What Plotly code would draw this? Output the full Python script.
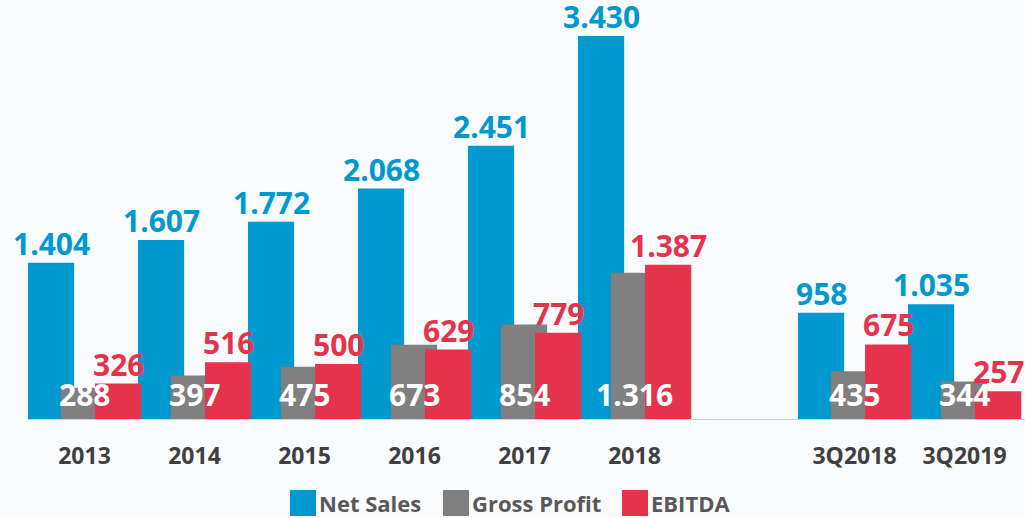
import plotly.graph_objects as go

# ---------------------------------------------------------------------------
# Data
# ---------------------------------------------------------------------------

PERIODS = ["2013", "2014", "2015", "2016", "2017", "2018", "3Q2018", "3Q2019"]
POSITIONS = [0, 1, 2, 3, 4, 5, 7, 8]  # gap between yearly and quarterly groups

NET_SALES = [1404, 1607, 1772, 2068, 2451, 3430, 958, 1035]
GROSS_PROFIT = [288, 397, 475, 673, 854, 1316, 435, 344]
EBITDA = [326, 516, 500, 629, 779, 1387, 675, 257]

SERIES = ["Net Sales", "Gross Profit", "EBITDA"]

BLUE = "#0099CF"
GRAY = "#808080"
RED = "#E5334B"
TEXT = "#595959"
FONT = "Open Sans, sans-serif"

W, H = 1025, 518
PLOT_H = 420  # plot area height in px (baseline position)

BAR_W = 0.42
OFFSETS = {"Net Sales": -0.514, "Gross Profit": -0.214, "EBITDA": 0.096}


def fmt(v):
    return f"{v:,}".replace(",", ".")


fig = go.Figure()
for name, values, color in zip(SERIES, [NET_SALES, GROSS_PROFIT, EBITDA], [BLUE, GRAY, RED]):
    fig.add_trace(go.Bar(
        x=POSITIONS, y=values, name=name,
        marker=dict(color=color, line=dict(width=0)),
        width=BAR_W, offset=OFFSETS[name],
        showlegend=False,
    ))

# value labels
label_font = dict(family=FONT, size=30, weight="bold")
for x, ns, gp, eb in zip(POSITIONS, NET_SALES, GROSS_PROFIT, EBITDA):
    fig.add_annotation(
        x=x + OFFSETS["Net Sales"] + BAR_W / 2, y=ns, text=fmt(ns),
        showarrow=False, yanchor="bottom", yshift=-3,
        font=dict(label_font, color=BLUE),
    )
    fig.add_annotation(
        x=x + OFFSETS["EBITDA"] + BAR_W / 2, y=eb, text=fmt(eb),
        showarrow=False, yanchor="bottom", yshift=-3,
        font=dict(label_font, color=RED),
    )
    fig.add_annotation(
        x=x, y=0, text=fmt(gp),
        showarrow=False, yanchor="middle", yshift=26,
        font=dict(label_font, color="white"),
    )

# baseline
fig.add_shape(
    type="line", xref="x", yref="y",
    x0=OFFSETS["Net Sales"], x1=8.6, y0=0, y1=0,
    line=dict(color="#C9D3DC", width=2),
)

# legend with large square swatches (paper coords, px converted)
def py(p):
    return (PLOT_H - p) / PLOT_H

for name, color, left in zip(SERIES, [BLUE, GRAY, RED], [290, 443, 622]):
    fig.add_shape(
        type="rect", xref="paper", yref="paper",
        x0=left / W, x1=(left + 26) / W, y0=py(516), y1=py(490),
        fillcolor=color, line=dict(width=0),
    )
    fig.add_annotation(
        xref="paper", yref="paper", x=(left + 27) / W, y=py(503),
        xanchor="left", yanchor="middle", text=name, showarrow=False,
        font=dict(family=FONT, size=22, color=TEXT, weight="bold"),
    )

fig.update_layout(
    width=W, height=H,
    barmode="overlay",
    font=dict(family=FONT, color=TEXT),
    margin=dict(l=0, r=0, t=0, b=H - PLOT_H),
    paper_bgcolor="#F9FBFD",
    plot_bgcolor="rgba(0,0,0,0)",
    showlegend=False,
)
fig.update_xaxes(
    range=[-0.768, 8.55], tickvals=POSITIONS, ticktext=PERIODS,
    showgrid=False, zeroline=False, showline=False, ticks="",
    ticklabelstandoff=20,
    tickfont=dict(family=FONT, size=23, color="#404040", weight="bold"),
)
fig.update_yaxes(
    range=[0, 3752], visible=False, showgrid=False, zeroline=False,
)

fig.write_html(
    "out.html",
    config={"displayModeBar": False},
    post_script="document.body.style.margin='0';",
)
